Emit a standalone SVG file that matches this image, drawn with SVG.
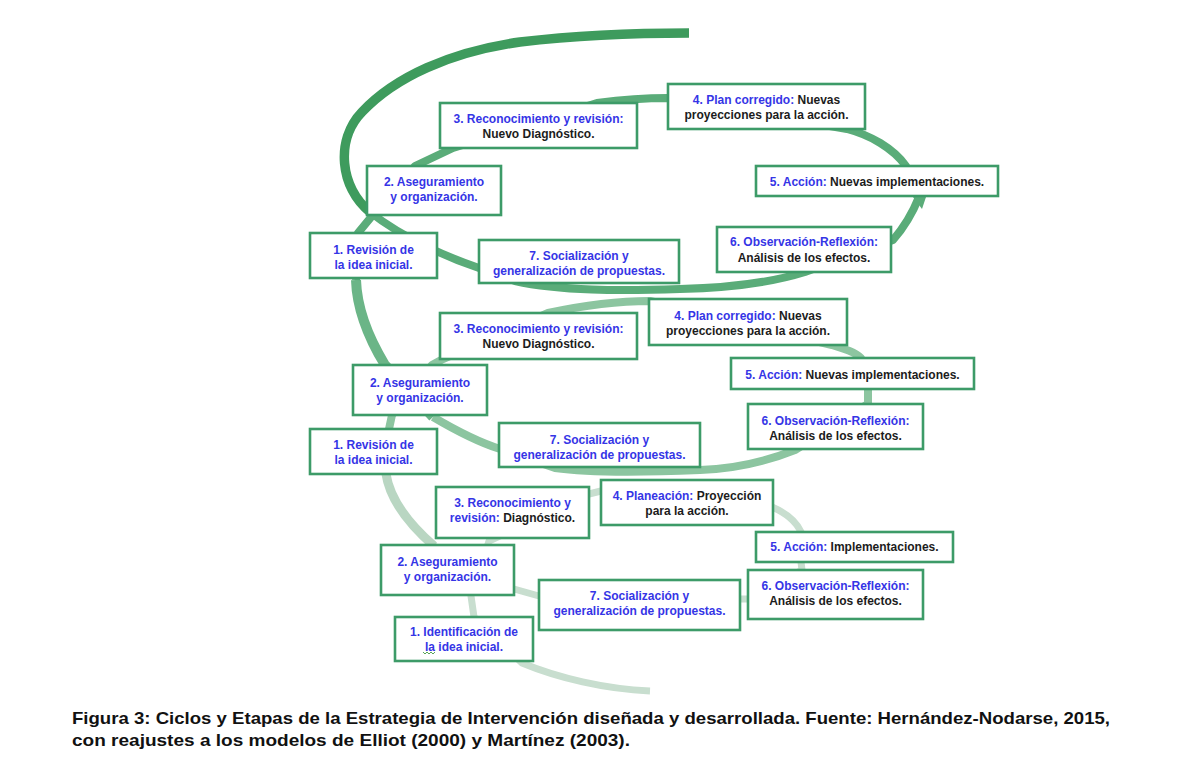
<svg xmlns="http://www.w3.org/2000/svg" width="1182" height="763" viewBox="0 0 1182 763">
<style>
.box{fill:#fff;stroke:#3d9b68;stroke-width:2.6}
.t{font-family:"Liberation Sans",Arial,sans-serif;font-size:12px;font-weight:bold;text-anchor:middle;fill:#3535e6}
.k{fill:#1c1c1c}
.sp{fill:none;stroke-linejoin:round;stroke-linecap:butt}
.cap{font-family:"Liberation Sans",Arial,sans-serif;font-size:17px;font-weight:bold;fill:#111}
</style>
<rect width="1182" height="763" fill="#fff"/>
<g id="connectors">
  <path class="sp" stroke="#c8decf" stroke-width="7" d="M650,691 C605,689 558,678 522,663 L474,617 L471,596 L489,541 L589,494 L601,491 L772,507 C786,513 796,521 801,532 L801,562 L802,570 L748,599 L740,599 L539,596 L514,589 L434,546"/>
  <path class="sp" stroke="#b9d6c2" stroke-width="9" d="M434,546 C410,525 390,500 386,474"/>
  <path class="sp" stroke="#8cc5a0" stroke-width="8" d="M386,474 L389,429 L392,415 L432,365 L443,359 L548,313 C585,305 620,301 650,301 L832,345 C845,349 855,352 861,358 L868,389 L868,404 L795,450 C765,462 735,469 700,470 C650,472 590,473 555,468 L500,449 C478,442 455,430 433,417"/>
  <path class="sp" stroke="#6bb587" stroke-width="10" d="M433,417 L385,365 C371,342 357,312 356,280"/>
  <path class="sp" stroke="#5aac79" stroke-width="8" d="M356,280 L358,233 L372,216 L415,166 L453,148 L597,103 C620,100 645,98 668,98 L847,129 C870,135 893,148 906,166 L919,197 C915,207 906,225 893,240 L805,272 C770,283 725,288 680,289 C620,291 560,291 515,281 L479,268 C455,260 405,240 370,212"/>
  <polygon points="913,197 926,197 922,209" fill="#5aac79"/>
  <path class="sp" stroke="#3e9b5d" stroke-width="9.5" d="M370,212 C340,188 335,140 362,112 C395,77 450,52 520,42 C580,35 640,33 689,33"/>
</g>
<g id="t3"><rect class="box" x="440" y="103" width="197" height="45"/><text class="t" x="538.5" y="123">3. Reconocimiento y revisión:</text><text class="t k" x="538.5" y="138">Nuevo Diagnóstico.</text></g>
<g id="t4"><rect class="box" x="668" y="84" width="197" height="45"/><text class="t" x="766.5" y="104"><tspan>4. Plan corregido:</tspan> <tspan class="k">Nuevas</tspan></text><text class="t k" x="766.5" y="119">proyecciones para la acción.</text></g>
<g id="t5"><rect class="box" x="756" y="166" width="242" height="30"/><text class="t" x="877" y="186"><tspan>5. Acción:</tspan> <tspan class="k">Nuevas implementaciones.</tspan></text></g>
<g id="t6"><rect class="box" x="717" y="227" width="174" height="45"/><text class="t" x="804" y="246">6. Observación-Reflexión:</text><text class="t k" x="804" y="261.5">Análisis de los efectos.</text></g>
<g id="t2"><rect class="box" x="367" y="166" width="134" height="49"/><text class="t" x="434" y="186">2. Aseguramiento</text><text class="t" x="434" y="201">y organización.</text></g>
<g id="t1"><rect class="box" x="310" y="233" width="127" height="45"/><text class="t" x="373.5" y="254">1. Revisión de</text><text class="t" x="373.5" y="269">la idea inicial.</text></g>
<g id="t7"><rect class="box" x="479" y="240" width="200" height="43"/><text class="t" x="579" y="260">7. Socialización y</text><text class="t" x="579" y="274.5">generalización de propuestas.</text></g>
<g id="m3"><rect class="box" x="440" y="313" width="197" height="46"/><text class="t" x="538.5" y="333">3. Reconocimiento y revisión:</text><text class="t k" x="538.5" y="348">Nuevo Diagnóstico.</text></g>
<g id="m4"><rect class="box" x="649" y="299" width="198" height="46"/><text class="t" x="748" y="320"><tspan>4. Plan corregido:</tspan> <tspan class="k">Nuevas</tspan></text><text class="t k" x="748" y="335">proyecciones para la acción.</text></g>
<g id="m5"><rect class="box" x="731" y="358" width="243" height="31"/><text class="t" x="852.5" y="379"><tspan>5. Acción:</tspan> <tspan class="k">Nuevas implementaciones.</tspan></text></g>
<g id="m6"><rect class="box" x="748" y="404" width="175" height="45"/><text class="t" x="835.5" y="425">6. Observación-Reflexión:</text><text class="t k" x="835.5" y="440">Análisis de los efectos.</text></g>
<g id="m2"><rect class="box" x="353" y="365" width="134" height="50"/><text class="t" x="420" y="387">2. Aseguramiento</text><text class="t" x="420" y="402">y organización.</text></g>
<g id="m1"><rect class="box" x="310" y="429" width="127" height="45"/><text class="t" x="373.5" y="449">1. Revisión de</text><text class="t" x="373.5" y="464">la idea inicial.</text></g>
<g id="m7"><rect class="box" x="499" y="423" width="201" height="44"/><text class="t" x="599.5" y="444">7. Socialización y</text><text class="t" x="599.5" y="458.5">generalización de propuestas.</text></g>
<g id="b3"><rect class="box" x="436" y="487" width="153" height="51"/><text class="t" x="512.5" y="506.5">3. Reconocimiento y</text><text class="t" x="512.5" y="522"><tspan>revisión:</tspan> <tspan class="k">Diagnóstico.</tspan></text></g>
<g id="b4"><rect class="box" x="601" y="480" width="172" height="45"/><text class="t" x="687" y="500"><tspan>4. Planeación:</tspan> <tspan class="k">Proyección</tspan></text><text class="t k" x="687" y="514.5">para la acción.</text></g>
<g id="b5"><rect class="box" x="756" y="532" width="197" height="30"/><text class="t" x="854.5" y="551"><tspan>5. Acción:</tspan> <tspan class="k">Implementaciones.</tspan></text></g>
<g id="b6"><rect class="box" x="748" y="570" width="175" height="49"/><text class="t" x="835.5" y="589.5">6. Observación-Reflexión:</text><text class="t k" x="835.5" y="605">Análisis de los efectos.</text></g>
<g id="b2"><rect class="box" x="381" y="545" width="133" height="50"/><text class="t" x="447.5" y="566">2. Aseguramiento</text><text class="t" x="447.5" y="581">y organización.</text></g>
<g id="b7"><rect class="box" x="539" y="580" width="201" height="50"/><text class="t" x="639.5" y="600">7. Socialización y</text><text class="t" x="639.5" y="615">generalización de propuestas.</text></g>
<g id="b1"><rect class="box" x="395" y="617" width="138" height="44"/><text class="t" x="464" y="636">1. Identificación de</text><text class="t" x="464" y="651">la idea inicial.</text><polyline points="423,652 425,654 427,652 429,654 431,652 433,654 435,652" fill="none" stroke="#2e8b2e" stroke-width="0.8"/></g>
<g id="caption">
  <text class="cap" x="72" y="724" textLength="1038" lengthAdjust="spacingAndGlyphs">Figura 3: Ciclos y Etapas de la Estrategia de Intervención diseñada y desarrollada. Fuente: Hernández-Nodarse, 2015,</text>
  <text class="cap" x="72" y="746" textLength="558" lengthAdjust="spacingAndGlyphs">con reajustes a los modelos de Elliot (2000) y Martínez (2003).</text>
</g>
</svg>
